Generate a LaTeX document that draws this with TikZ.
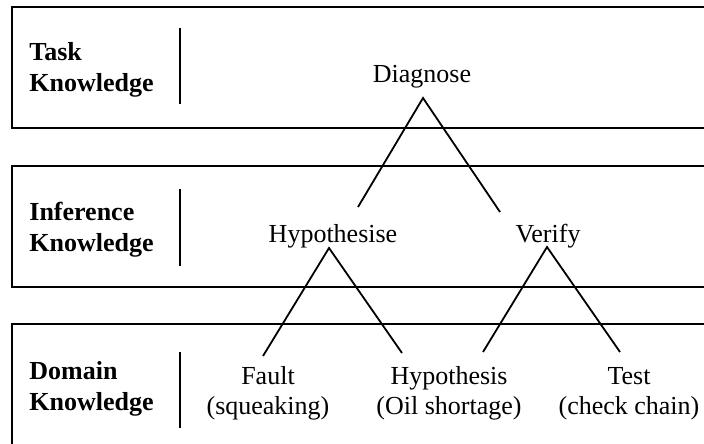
\documentclass[tikz,border=0pt]{standalone}
\usepackage{fontspec}
\setmainfont{Liberation Serif}
\usetikzlibrary{calc}

\begin{document}
\begin{tikzpicture}[
        x=0.5pt, y=-0.5pt,
        font=\fontsize{13}{15}\selectfont,
        band/.style={draw, line width=1pt},
        bar/.style={line width=1pt},
        layer/.style={font=\fontsize{13}{15.5}\selectfont\bfseries, align=left, anchor=base west, inner sep=0pt},
        item/.style={align=center, anchor=base, inner sep=0pt},
        leg/.style={line width=0.9pt}
    ]
    \useasboundingbox (0,0) rectangle (704,443);

    % Bands
    \draw[band] (12,7) rectangle (730,128);
    \draw[band] (12,166) rectangle (730,287);
    \draw[band] (12,324) rectangle (730,470);

    % Layer names (anchored at the last line)
    \node[layer] (task) at (29,92) {Task\\Knowledge};
    \node[layer] (inf) at (29,251) {Inference\\Knowledge};
    \node[layer] (dom) at (29,410) {Domain\\Knowledge};
    \draw[bar] (180,28) -- (180,104);
    \draw[bar] (180,189) -- (180,266);
    \draw[bar] (180,352) -- (180,428);

    % Tree
    \node[item] (diag) at (422,83) {Diagnose};
    \node[item] (hyp) at (333,242) {Hypothesise};
    \node[item] (ver) at (548,242) {Verify};
    \node[item] (fault) at (268,414) {Fault\\(squeaking)};
    \node[item] (hypo) at (449,414) {Hypothesis\\(Oil shortage)};
    \node[item] (test) at (629,414) {Test\\(check chain)};

    % Legs
    \draw[leg] ($(hyp.base)+(25,-35)$) -- ($(diag.base)+(1,15)$) -- ($(ver.base)+(-48,-30)$);
    \draw[leg] ($(fault.base)+(-5,-58)$) -- ($(hyp.base)+(-4,6)$) -- ($(hypo.base)+(-47,-61)$);
    \draw[leg] ($(hypo.base)+(34,-62)$) -- ($(ver.base)+(-1,5)$) -- ($(test.base)+(-9,-62)$);

\end{tikzpicture}
\end{document}
